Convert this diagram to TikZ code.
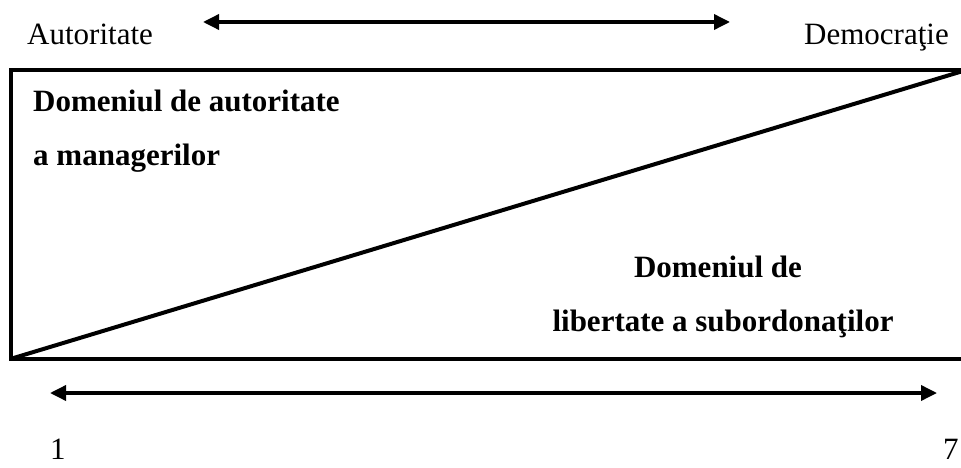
\documentclass[tikz,border=0pt]{standalone}
\usepackage{fontspec}
\setmainfont{Liberation Serif}
\usetikzlibrary{arrows.meta}
\begin{document}
\begin{tikzpicture}[x=1pt,y=-1pt,
  frame/.style={line width=4pt,line join=miter},
  scalearrow/.style={line width=3.5pt,{Triangle[length=16pt,width=15pt]}-{Triangle[length=16pt,width=15pt]}},
  lbl/.style={inner sep=0pt,anchor=base west,font=\fontsize{31}{31}\selectfont},
  blbl/.style={lbl,font=\fontsize{31}{31}\selectfont\bfseries}]
\useasboundingbox (0,0) rectangle (961,468);
\clip (0,0) rectangle (961,468);
% frame corners and diagonal ends
\coordinate (tl) at (11.3,70.5);
\coordinate (bl) at (11.3,358.7);
\coordinate (tr) at (975,70.5);
\coordinate (br) at (975,358.7);
\coordinate (dr) at (963,71);
% open frame and the dividing diagonal
\draw[frame] (tr) -- (tl) -- (bl) -- (br);
\draw[frame] (bl) -- (dr);
% top scale: autocracy to democracy
\coordinate (ta) at (203,22);
\coordinate (tb) at (730,22);
\draw[scalearrow] (ta) -- (tb);
\node[lbl] (aut) at (27,45) {Autoritate};
\node[lbl] (dem) at (804,45) {Democraţie};
% bottom scale: 1 to 7
\coordinate (ba) at (50,393);
\coordinate (bb) at (937,393);
\draw[scalearrow] (ba) -- (bb);
\node[lbl] (one) at (50,459) {1};
\node[lbl] (seven) at (943,459) {7};
% area labels
\node[blbl] (m1) at (33,112) {Domeniul de autoritate};
\node[blbl] (m2) at (33,165) {a managerilor};
\node[blbl,anchor=base] (s1) at (718,277) {Domeniul de};
\node[blbl,anchor=base] (s2) at (723,331) {libertate a subordonaţilor};
\end{tikzpicture}
\end{document}
